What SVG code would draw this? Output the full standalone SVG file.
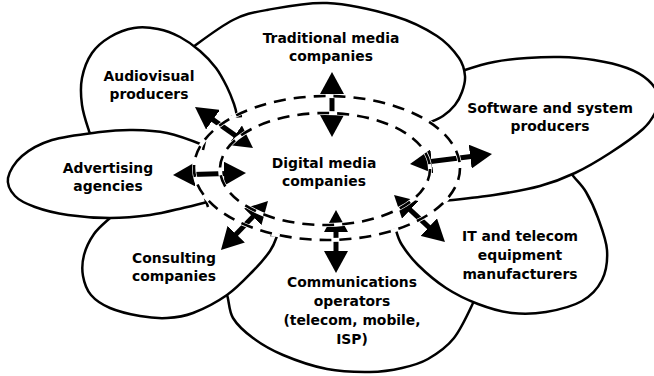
<svg xmlns="http://www.w3.org/2000/svg" width="654" height="376" viewBox="0 0 654 376">
  <style>
    .petal { fill: #fff; stroke: #000; stroke-width: 2.5; stroke-linejoin: round; }
    .lbl { font-family: "DejaVu Sans", Verdana, sans-serif; font-weight: bold; font-size: 13.9px; text-anchor: middle; fill: #000; }
    .tick { stroke: #000; stroke-width: 2.5; fill: none; }
    .ring-under { fill: none; stroke: #fff; stroke-width: 4; }
    .ring { fill: none; stroke: #000; stroke-width: 2.6; stroke-dasharray: 12 8; }
    .link { stroke: #000; stroke-width: 5; marker-start: url(#head); marker-end: url(#head); }
  </style>
  <defs>
    <marker id="head" viewBox="0 0 22 24" refX="11" refY="12" markerWidth="22" markerHeight="24" markerUnits="userSpaceOnUse" orient="auto-start-reverse">
      <path d="M0,0 L22,12 L0,24 Z" fill="#000"/>
    </marker>
  </defs>
  <rect width="654" height="376" fill="#fff"/>

  <!-- petals, back to front -->
  <g id="communications">
    <path class="petal" d="M220,284 L227,295 C229.2,300.7 228.7,310.8 233,318 C237.3,325.2 244.7,331.8 253,338 C261.3,344.2 270.7,349.8 283,355 C295.3,360.2 312.5,366.2 327,369 C341.5,371.8 357.5,372.2 370,372 C382.5,371.8 392.3,370.2 402,368 C411.7,365.8 419.3,364 428,359 C436.7,354 446.3,347.7 454,338 C461.7,328.3 469.7,310 474,301 L480,284 L420,230 L330,215 L250,235 Z"/>
    <text class="lbl"><tspan x="352" y="287">Communications</tspan><tspan x="352" y="306">operators</tspan><tspan x="352" y="325">(telecom, mobile,</tspan><tspan x="352" y="344">ISP)</tspan></text>
  </g>
  <g id="it-telecom">
    <path class="petal" d="M566,167 L574,177 C577.3,181.2 582,185.2 586,192 C590,198.8 594.5,208.3 598,218 C601.5,227.7 606.3,239.7 607,250 C607.7,260.3 606.2,271.5 602,280 C597.8,288.5 591.3,295.7 582,301 C572.7,306.3 557.7,310 546,312 C534.3,314 523.3,314.3 512,313 C500.7,311.7 489,308.2 478,304 C467,299.8 456,294.5 446,288 C436,281.5 425.3,272.2 418,265 C410.7,257.8 405.7,250.8 402,245 C398.3,239.2 397.3,235 396,230 L394,215 L440,190 L520,170 Z"/>
    <text class="lbl"><tspan x="520" y="241">IT and telecom</tspan><tspan x="520" y="260">equipment</tspan><tspan x="520" y="279">manufacturers</tspan></text>
  </g>
  <g id="software">
    <path class="petal" d="M452,76 L465,70 C472,67.7 483.7,64 494,62 C504.3,60 516,58.8 527,58 C538,57.2 548.8,56.7 560,57 C571.2,57.3 582.8,58.2 594,60 C605.2,61.8 618,64.7 627,68 C636,71.3 642.7,75.2 648,80 C653.3,84.8 657.8,91.5 659,97 C660.2,102.5 657.7,107.7 655,113 C652.3,118.3 650.5,122.3 643,129 C635.5,135.7 621.3,145.7 610,153 C598.7,160.3 586.7,167.5 575,173 C563.3,178.5 553.5,182.3 540,186 C526.5,189.7 510,192.5 494,195 C478,197.5 455.5,199.7 444,201 L425,203 L400,150 L400,110 Z"/>
    <text class="lbl"><tspan x="550" y="113">Software and system</tspan><tspan x="550" y="131">producers</tspan></text>
  </g>
  <g id="traditional-media">
    <path class="petal" d="M181,58 L193,47 C201.7,40.7 220.7,26.2 233,20 C245.3,13.8 251.3,12.8 267,10 C282.7,7.2 305.8,2 327,3 C348.2,4 375.7,10.5 394,16 C412.3,21.5 426.2,29 437,36 C447.8,43 454.3,51.3 459,58 C463.7,64.7 464.5,70.3 465,76 C465.5,81.7 463.7,87.2 462,92 C460.3,96.8 458.2,101 455,105 C451.8,109 447.5,113 443,116 C438.5,119 433.5,120.7 428,123 L410,130 L300,150 L215,120 Z"/>
    <text class="lbl"><tspan x="331" y="43">Traditional media</tspan><tspan x="331" y="61">companies</tspan></text>
  </g>
  <g id="audiovisual">
    <path class="petal" d="M95,146 L89,131 C86.8,124.2 83.2,113.8 82,105 C80.8,96.2 80.3,86.7 82,78 C83.7,69.3 87.3,59.8 92,53 C96.7,46.2 103,41.2 110,37 C117,32.8 126,29.3 134,28 C142,26.7 150.3,27.5 158,29 C165.7,30.5 173,33.3 180,37 C187,40.7 194,45.8 200,51 C206,56.2 211.5,62 216,68 C220.5,74 224,81 227,87 C230,93 232.3,99.2 234,104 C235.7,108.8 236.2,111.7 237,116 L239,130 L200,150 L120,150 Z"/>
    <text class="lbl"><tspan x="149" y="81">Audiovisual</tspan><tspan x="149" y="99">producers</tspan></text>
  </g>
  <g id="consulting">
    <path class="petal" d="M120,210 L110,218 C105.7,222 98.3,227.8 94,234 C89.7,240.2 85.8,248 84,255 C82.2,262 81.8,269.3 83,276 C84.2,282.7 86.5,289.7 91,295 C95.5,300.3 101.8,304.5 110,308 C118.2,311.5 130.5,314.3 140,316 C149.5,317.7 158.2,318.5 167,318 C175.8,317.5 183,316.8 193,313 C203,309.2 217,302 227,295 C237,288 245.8,278.3 253,271 C260.2,263.7 266,256.8 270,251 C274,245.2 275.3,240.8 277,236 L280,222 L240,190 L160,195 Z"/>
    <text class="lbl"><tspan x="174" y="263">Consulting</tspan><tspan x="174" y="281">companies</tspan></text>
  </g>
  <g id="advertising">
    <path class="petal" d="M215,152 L203,145 C195,141.8 178.7,135.5 167,133 C155.3,130.5 144.2,130.2 133,130 C121.8,129.8 113.5,130.3 100,132 C86.5,133.7 65,136 52,140 C39,144 29.3,149.7 22,156 C14.7,162.3 9.2,171.3 8,178 C6.8,184.7 10.5,191.2 15,196 C19.5,200.8 26.2,203.8 35,207 C43.8,210.2 55.5,213.2 68,215 C80.5,216.8 96.3,218 110,218 C123.7,218 137.8,216.7 150,215 C162.2,213.3 173.5,210.2 183,208 C192.5,205.8 201.2,203.8 207,202 L218,197 Z"/>
    <text class="lbl"><tspan x="108" y="173">Advertising</tspan><tspan x="108" y="191">agencies</tspan></text>
  </g>

  <!-- central node: white core -->
  <g id="digital-media">
    <ellipse cx="327" cy="168" rx="133" ry="72" fill="#fff"/>
    <text class="lbl"><tspan x="324" y="168">Digital media</tspan><tspan x="324" y="186">companies</tspan></text>
  </g>

  <!-- short end bars where petal outlines meet the core -->
  <g id="outline-ends">
    <line class="tick" x1="231" y1="117" x2="242" y2="116"/>
    <line class="tick" x1="205" y1="141" x2="203" y2="150"/>
    <line class="tick" x1="205" y1="198" x2="208" y2="207"/>
    <line class="tick" x1="270" y1="235" x2="280" y2="235"/>
    <line class="tick" x1="391" y1="231" x2="401" y2="228"/>
  </g>

  <!-- two-way links between the core and each petal -->
  <g id="connectors">
    <line class="link" x1="332" y1="83" x2="332" y2="126"/>
    <line class="link" x1="204" y1="113.4" x2="244" y2="141.6"/>
    <line class="link" x1="184" y1="174.7" x2="235" y2="173.3"/>
    <line class="link" x1="228.6" y1="242.1" x2="260.4" y2="208.9"/>
    <line class="link" x1="336" y1="221" x2="336" y2="262"/>
    <line class="link" x1="402.1" y1="202.4" x2="436.9" y2="234.6"/>
    <line class="link" x1="420.9" y1="162.7" x2="481.1" y2="155.3"/>
  </g>

  <!-- dashed double boundary of the core -->
  <g id="digital-media-ring">
    <ellipse class="ring-under" cx="327" cy="168" rx="133" ry="72"/>
    <ellipse class="ring-under" cx="325" cy="169" rx="105" ry="56"/>
    <ellipse class="ring" cx="327" cy="168" rx="133" ry="72"/>
    <ellipse class="ring" cx="325" cy="169" rx="105" ry="56"/>
  </g>
</svg>
